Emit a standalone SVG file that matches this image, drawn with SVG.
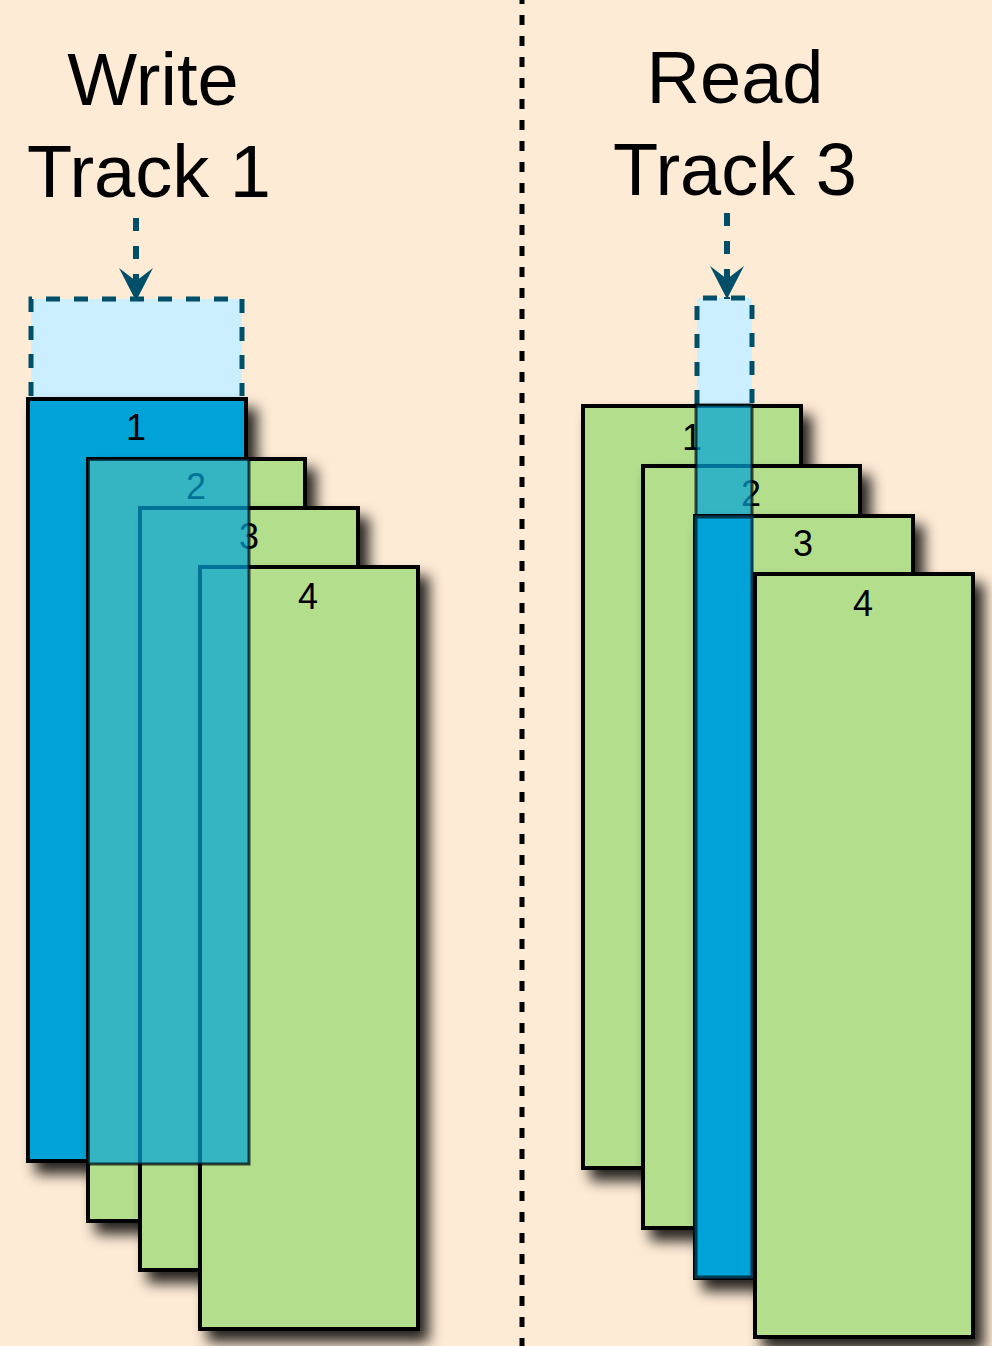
<svg xmlns="http://www.w3.org/2000/svg" width="992" height="1346" viewBox="0 0 992 1346">
<defs>
<filter id="sh" x="-20%" y="-20%" width="150%" height="150%">
<feDropShadow dx="9" dy="11" stdDeviation="7" flood-color="#000" flood-opacity="0.85"/>
</filter>
<marker id="ah" markerWidth="34" markerHeight="34" viewBox="0 0 34 34" refX="33" refY="17" orient="auto" markerUnits="userSpaceOnUse">
<path d="M0,0 L13,17 L0,34 L33,17 Z" fill="#004F69"/>
</marker>
<style>
.bg{fill:#FEEBD5}
.title{font-family:"Liberation Sans",Arial,sans-serif;font-size:74px;fill:#000;text-anchor:middle}
.num{font-family:"Liberation Sans",Arial,sans-serif;font-size:36px;fill:#000;text-anchor:middle}
.green{fill:#B3DE8C;stroke:#000;stroke-width:4}
.blue{fill:#00A3D8;stroke:#000;stroke-width:4}
.ghost{fill:#CBEFFE}
.dash{fill:none;stroke:#004F69;stroke-width:5;stroke-dasharray:14 14}
.arrow{fill:none;stroke:#004F69;stroke-width:6;stroke-dasharray:13 15}
.overlay{fill:#00A3D8;fill-opacity:0.7;stroke:#000;stroke-opacity:0.7;stroke-width:3}
</style>
</defs>
<rect class="bg" x="0" y="0" width="992" height="1346"/>
<g id="divider">
<line x1="522" y1="-6" x2="522" y2="1346" stroke="#000" stroke-width="5" stroke-dasharray="10 11"/>
</g>
<g id="title-write">
<text class="title" x="153" y="105">Write</text>
<text class="title" x="149" y="197">Track 1</text>
</g>
<g id="title-read">
<text class="title" x="735" y="103">Read</text>
<text class="title" x="735" y="195">Track 3</text>
</g>
<g id="write-head">
<rect class="ghost" x="31" y="299" width="211" height="100"/>
<path class="dash" d="M31,396 V299 H242 V396"/>
</g>
<g id="read-head">
<rect class="ghost" x="697" y="298" width="55" height="110"/>
<path class="dash" d="M697,404 V298 H752 V404"/>
</g>
<g id="left-track1"><rect class="blue" x="28" y="399" width="218" height="762" filter="url(#sh)"/><text class="num" x="136" y="440">1</text></g>
<g id="left-track2"><rect class="green" x="88" y="459" width="217" height="762" filter="url(#sh)"/><text class="num" x="196" y="499">2</text></g>
<g id="left-track3"><rect class="green" x="140" y="508" width="218" height="762" filter="url(#sh)"/><text class="num" x="249" y="549">3</text></g>
<g id="left-track4"><rect class="green" x="200" y="567" width="218" height="762" filter="url(#sh)"/><text class="num" x="308" y="609">4</text></g>
<g id="left-write-overlay"><rect class="overlay" x="88" y="459" width="161" height="705"/></g>
<g id="right-track1"><rect class="green" x="583" y="406" width="218" height="762" filter="url(#sh)"/><text class="num" x="692" y="450">1</text></g>
<g id="right-track2"><rect class="green" x="643" y="466" width="217" height="762" filter="url(#sh)"/><text class="num" x="751" y="506">2</text></g>
<g id="right-read-overlay"><rect class="overlay" x="696" y="405" width="56" height="112"/></g>
<g id="right-track3"><rect class="green" x="695" y="516" width="218" height="762" filter="url(#sh)"/><rect x="696" y="517" width="56" height="760" fill="#00A3D8" stroke="#003A50" stroke-width="3"/><text class="num" x="803" y="556">3</text></g>
<g id="right-track4"><rect class="green" x="755" y="574" width="218" height="763" filter="url(#sh)"/><text class="num" x="863" y="616">4</text></g>
<g id="connectors">
<line class="arrow" x1="136" y1="218" x2="136" y2="301" marker-end="url(#ah)"/>
<line class="arrow" x1="727" y1="213" x2="727" y2="299" marker-end="url(#ah)"/>
</g>
</svg>
